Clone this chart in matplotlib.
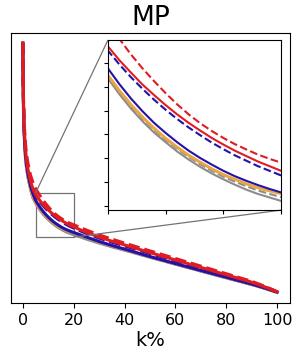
import numpy as np
import matplotlib
matplotlib.use("Agg")
import matplotlib.pyplot as plt
from mpl_toolkits.axes_grid1.inset_locator import mark_inset

# k% positions and curve values
k = [0, 0.1, 0.25, 0.5, 1, 1.5, 2, 3, 4,
     5, 6, 7, 8, 9, 10, 11, 12, 13, 14, 15, 16, 17, 18, 19, 20,
     25, 30, 35, 40, 50, 60, 70, 80, 90, 95, 100]

gray_solid = [2.60, 2.23, 1.94, 1.69, 1.46, 1.34, 1.26, 1.14, 1.05,
              1.001, 0.960, 0.923, 0.890, 0.861, 0.836, 0.812, 0.791, 0.772, 0.755,
              0.740, 0.726, 0.713, 0.702, 0.693, 0.684,
              0.640, 0.600, 0.563, 0.529, 0.458, 0.389, 0.320, 0.252, 0.185, 0.148, 0.107]
gray_dashed = [2.60, 2.235, 1.945, 1.695, 1.465, 1.345, 1.265, 1.145, 1.055,
               1.005, 0.965, 0.929, 0.897, 0.868, 0.842, 0.819, 0.798, 0.779, 0.762,
               0.747, 0.734, 0.722, 0.711, 0.702, 0.694,
               0.650, 0.608, 0.569, 0.534, 0.461, 0.391, 0.322, 0.254, 0.187, 0.150, 0.108]
orange_solid = [2.60, 2.24, 1.95, 1.70, 1.47, 1.35, 1.27, 1.15, 1.06,
                1.009, 0.969, 0.933, 0.901, 0.872, 0.846, 0.823, 0.802, 0.784, 0.767,
                0.752, 0.740, 0.728, 0.718, 0.710, 0.703,
                0.656, 0.612, 0.572, 0.537, 0.463, 0.393, 0.324, 0.256, 0.188, 0.151, 0.109]
blue_solid = [2.60, 2.26, 1.97, 1.72, 1.49, 1.37, 1.29, 1.17, 1.09,
              1.027, 0.986, 0.949, 0.916, 0.886, 0.860, 0.836, 0.814, 0.795, 0.778,
              0.762, 0.748, 0.736, 0.725, 0.715, 0.706,
              0.660, 0.616, 0.576, 0.540, 0.465, 0.395, 0.326, 0.258, 0.190, 0.152, 0.110]
blue_dashed = [2.60, 2.29, 2.01, 1.76, 1.53, 1.41, 1.33, 1.21, 1.13,
               1.073, 1.037, 1.004, 0.974, 0.946, 0.920, 0.896, 0.874, 0.854, 0.835,
               0.818, 0.802, 0.788, 0.774, 0.762, 0.750,
               0.697, 0.650, 0.609, 0.572, 0.496, 0.423, 0.350, 0.277, 0.204, 0.161, 0.113]
red_solid = [2.60, 2.30, 2.02, 1.77, 1.54, 1.42, 1.34, 1.22, 1.14,
             1.084, 1.048, 1.016, 0.985, 0.958, 0.932, 0.908, 0.886, 0.866, 0.847,
             0.830, 0.814, 0.800, 0.786, 0.774, 0.762,
             0.707, 0.660, 0.619, 0.582, 0.505, 0.431, 0.357, 0.283, 0.209, 0.164, 0.114]
red_dashed = [2.60, 2.32, 2.06, 1.82, 1.60, 1.48, 1.40, 1.28, 1.205,
              1.148, 1.103, 1.063, 1.027, 0.994, 0.963, 0.934, 0.908, 0.885, 0.865,
              0.847, 0.831, 0.817, 0.804, 0.793, 0.783,
              0.730, 0.682, 0.640, 0.600, 0.522, 0.446, 0.370, 0.294, 0.218, 0.170, 0.115]

gray = "#8c8c8c"
orange = "#e8a640"
blue = "#2412a8"
red = "#e01c22"

series = [
    (gray_solid, gray, "-"),
    (gray_dashed, gray, "--"),
    (orange_solid, orange, "-"),
    (blue_solid, blue, "-"),
    (blue_dashed, blue, "--"),
    (red_solid, red, "-"),
    (red_dashed, red, "--"),
]

fig = plt.figure(figsize=(3.03, 3.52), dpi=100)
ax = fig.add_axes([0.036, 0.139, 0.921, 0.767])
for ys, c, ls in series:
    ax.plot(k, ys, color=c, linestyle=ls, linewidth=2.2)
ax.set_xlim(-4.7, 105.1)
ax.set_ylim(0, 2.70)
ax.set_yticks([])
ax.set_xticks([0, 20, 40, 60, 80, 100])
ax.tick_params(axis="x", labelsize=11.5)
ax.set_xlabel("k%", fontsize=14, labelpad=2)
ax.set_title("MP", fontsize=19, pad=6)

# zoomed inset
axins = fig.add_axes([0.356, 0.403, 0.571, 0.483])
for ys, c, ls in series:
    lw = 2.2 if c == orange else 1.5
    axins.plot(k, ys, color=c, linestyle=ls, linewidth=lw)
axins.set_xlim(5, 20)
axins.set_ylim(0.66, 1.10)
axins.set_xticks([5, 10, 15, 20])
axins.set_yticks(np.arange(0.672, 1.05, 0.0613))
axins.set_xticklabels([])
axins.set_yticklabels([])
axins.tick_params(length=3)
mark_inset(ax, axins, loc1=2, loc2=4, fc="none", ec="0.45", lw=0.9)

fig.savefig("out.png", dpi=100)
